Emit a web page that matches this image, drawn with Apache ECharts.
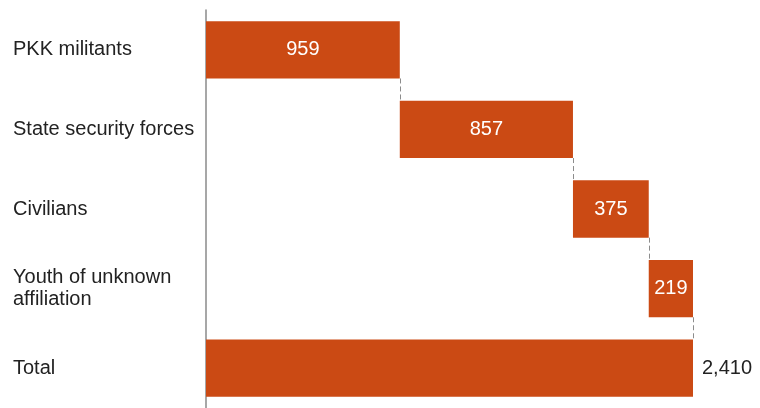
<!DOCTYPE html>
<html>
<head>
<meta charset="utf-8">
<script src="https://cdn.jsdelivr.net/npm/echarts@6/dist/echarts.min.js"></script>
<style>html,body{margin:0;padding:0;background:#fff}#c{width:760px;height:408px}</style>
</head>
<body>
<div id="c"></div>
<script>
const categories = ['PKK militants', 'State security forces', 'Civilians', 'Youth of unknown\naffiliation', 'Total'];
const values = [959, 857, 375, 219];
const total = 2410;

const bases = [];
const ends = [];
let acc = 0;
values.forEach(v => { bases.push(acc); acc += v; ends.push(acc); });
const baseData = bases.concat([0]);
const valueData = values.concat([total]);
const endData = ends.concat([total]);

const barColor = '#CB4A14';
const barRatio = 0.72;
const fontFam = 'Liberation Sans, Arial, sans-serif';

const chart = echarts.init(document.getElementById('c'), null, {renderer: 'canvas'});
chart.setOption({
  animation: false,
  grid: {left: 206, top: 10, width: 487, height: 401, containLabel: false},
  xAxis: {type: 'value', min: 0, max: total, show: false},
  yAxis: {
    type: 'category', data: categories, inverse: true,
    axisLine: {show: true, lineStyle: {color: '#8a8a8a', width: 1.5}},
    axisTick: {show: false},
    axisLabel: {align: 'left', margin: 193, color: '#222', fontSize: 20, lineHeight: 22,
      fontFamily: fontFam}
  },
  series: [
    {type: 'bar', stack: 'w', data: baseData, itemStyle: {color: 'transparent'},
      barCategoryGap: '28%', silent: true},
    {type: 'bar', stack: 'w', barCategoryGap: '28%',
      data: valueData.map((v, i) => i === valueData.length - 1 ? {
        value: v,
        label: {show: true, position: 'right', distance: 9, color: '#222',
          formatter: p => p.value.toLocaleString('en-US')}
      } : v),
      itemStyle: {color: barColor},
      label: {show: true, position: 'inside', color: '#fff', fontSize: 20,
        fontFamily: fontFam,
        formatter: p => p.value.toLocaleString('en-US')}
    },
    {type: 'custom', z: 5, silent: true,
      data: endData.slice(0, -1).map((e, i) => [e, i]),
      renderItem: function (params, api) {
        const pt = api.coord([api.value(0), api.value(1)]);
        const band = api.size([0, 1])[1];
        const barH = band * barRatio;
        const x = Math.round(pt[0]) + 0.5;
        return {
          type: 'line',
          shape: {x1: x, y1: pt[1] + barH / 2, x2: x, y2: pt[1] + band - barH / 2},
          style: {stroke: '#8c8c8c', lineWidth: 1, lineDash: [5, 3]}
        };
      }
    }
  ]
});
</script>
</body>
</html>
